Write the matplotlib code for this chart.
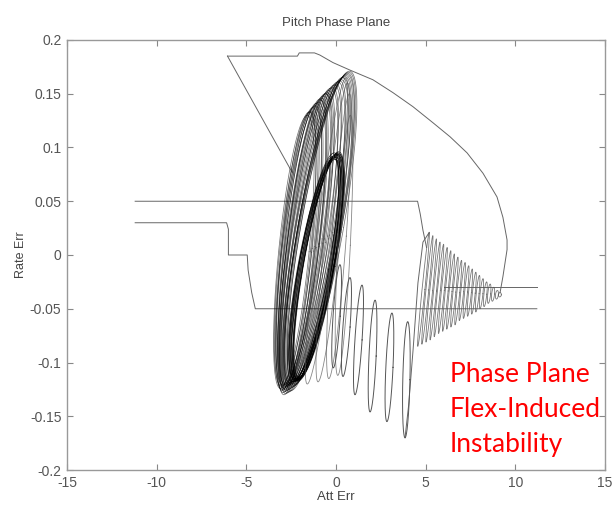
import numpy as np
import matplotlib
matplotlib.use("Agg")
import matplotlib.pyplot as plt

# ---- data ----
# step / guide lines
upper_step_x = [-11.2, 4.55, 4.7, 4.85, 5.05]
upper_step_y = [0.05, 0.05, 0.038, 0.023, 0.007]
lower_step_x = [-11.2, -6.1, -6.0, -6.0, -4.95, -4.9, -4.7, -4.5, 11.2]
lower_step_y = [0.03, 0.03, 0.024, 0.0, 0.0, -0.014, -0.035, -0.05, -0.05]
tail_x = [6.0, 11.2]
tail_y = [-0.03, -0.03]
diag_x = [-6.05, -2.45]
diag_y = [0.185, 0.077]
arc_x = [-6.05, -2.15, -2.05, -1.2, -0.9, -0.17, 0.78, 2.06, 3.18, 4.29, 5.41,
         6.36, 7.31, 8.2, 8.98, 9.31, 9.54, 9.54, 9.31, 9.15]
arc_y = [0.185, 0.185, 0.188, 0.188, 0.186, 0.179, 0.172, 0.163, 0.151, 0.138,
         0.123, 0.110, 0.095, 0.076, 0.054, 0.035, 0.014, 0.005, -0.02, -0.035]

# main cluster loops: top point, bottom point, half width
outer_top_x = [-1.6, -1.5, -1.4, -1.3, -1.2, -1.1, -1.0, -0.9, -0.8, -0.7, -0.6, -0.5, -0.4, -0.3,
               -0.2, -0.1, 0.0, 0.1, 0.2, 0.3, 0.35, 0.4, 0.5, 0.55, 0.6, 0.65, 0.7, 0.75,
               -1.45, -1.15, -0.85, -0.55]
outer_top_y = [0.130, 0.133, 0.134, 0.137, 0.138, 0.141, 0.142, 0.145, 0.146, 0.148, 0.150, 0.151,
               0.153, 0.155, 0.156, 0.158, 0.159, 0.161, 0.162, 0.163, 0.165, 0.165, 0.166, 0.167,
               0.168, 0.169, 0.170, 0.171, 0.133, 0.139, 0.144, 0.150]
outer_bot_x = [-3.1, -2.95, -3.05, -2.9, -3.0, -2.85, -2.95, -2.8, -2.9, -2.75, -2.85, -2.7, -2.8,
               -2.65, -2.75, -2.6, -2.7, -2.55, -2.65, -2.5, -2.6, -2.45, -2.55, -2.4, -2.5, -2.35,
               -2.45, -2.3, -3.0, -2.9, -2.85, -2.8]
outer_bot_y = [-0.124, -0.128, -0.122, -0.130, -0.125, -0.127, -0.121, -0.129, -0.124, -0.126,
               -0.120, -0.128, -0.123, -0.125, -0.121, -0.127, -0.122, -0.124, -0.120, -0.126,
               -0.121, -0.123, -0.119, -0.122, -0.120, -0.121, -0.118, -0.120, -0.126, -0.123,
               -0.125, -0.122]
outer_w = [0.85, 0.85, 0.9, 0.85, 0.95, 0.9, 1.0, 0.9, 0.95, 1.0, 0.95, 1.0, 0.95, 1.05,
           1.0, 1.05, 1.0, 1.1, 1.05, 1.1, 1.05, 1.15, 1.1, 1.15, 1.2, 1.15, 1.2, 1.2,
           0.8, 0.85, 0.9, 0.95]

# dark inner ellipse loops
inner_top_x = [-0.15, -0.05, 0.05, -0.1, 0.1, 0.0, 0.15, -0.15, 0.05, -0.05, 0.1, -0.1, 0.0, 0.15]
inner_top_y = [0.090, 0.092, 0.094, 0.091, 0.095, 0.093, 0.096, 0.092, 0.094, 0.089, 0.093,
               0.095, 0.091, 0.094]
inner_bot_x = [-2.3, -2.2, -2.15, -2.35, -2.1, -2.25, -2.05, -2.4, -2.15, -2.3, -2.1, -2.2,
               -2.25, -2.05]
inner_bot_y = [-0.116, -0.117, -0.115, -0.118, -0.116, -0.117, -0.114, -0.118, -0.116, -0.115,
               -0.117, -0.116, -0.118, -0.115]
inner_w = [0.9, 0.85, 0.95, 0.82, 0.9, 0.97, 0.86, 0.88, 0.8, 0.94, 0.87, 0.92, 0.84, 0.9]

# loops drifting right out of the cluster
trans_top_x = [0.55, 0.65, 0.75, 0.8]
trans_top_y = [0.165, 0.160, 0.150, 0.130]
trans_bot_x = [-1.6, -1.0, -0.4, 0.1]
trans_bot_y = [-0.120, -0.118, -0.115, -0.112]
trans_w = [0.5, 0.45, 0.4, 0.35]

drift_top_x = [0.22, 0.78, 1.45, 2.18, 3.12, 4.0]
drift_top_y = [-0.009, -0.021, -0.028, -0.042, -0.054, -0.062]
drift_bot_x = [-0.15, 0.39, 1.06, 1.9, 2.84, 3.85]
drift_bot_y = [-0.105, -0.113, -0.130, -0.146, -0.155, -0.170]
drift_w = [0.2, 0.2, 0.2, 0.2, 0.2, 0.2]

rise_x = [3.85, 4.05, 4.3, 4.57, 4.85, 5.2]
rise_y = [-0.170, -0.140, -0.088, -0.026, 0.012, 0.021]

# decaying flex oscillations
tri_top_x = [5.2, 5.4, 5.6, 5.8, 6.0, 6.2, 6.4, 6.6, 6.8, 7.0, 7.2,
             7.4, 7.6, 7.8, 8.0, 8.2, 8.4, 8.6, 8.8, 9.0, 9.15]
tri_top_y = [0.021, 0.018, 0.015, 0.012, 0.010, 0.007, 0.004, 0.001, -0.002, -0.005, -0.007,
             -0.010, -0.013, -0.016, -0.019, -0.022, -0.025, -0.027, -0.030, -0.033, -0.035]
tri_bot_x = [4.56, 4.79, 5.02, 5.25, 5.48, 5.72, 5.95, 6.18, 6.41, 6.64, 6.88,
             7.11, 7.34, 7.57, 7.80, 8.03, 8.26, 8.49, 8.72, 8.95, 9.13]
tri_bot_y = [-0.085, -0.083, -0.081, -0.079, -0.076, -0.073, -0.071, -0.069, -0.067, -0.065, -0.061,
             -0.059, -0.057, -0.055, -0.053, -0.050, -0.048, -0.045, -0.043, -0.041, -0.039]
tri_w = [0.08] * len(tri_top_x)

x_ticks = [-15, -10, -5, 0, 5, 10, 15]
y_ticks = [-0.2, -0.15, -0.1, -0.05, 0, 0.05, 0.1, 0.15, 0.2]
y_tick_labels = ["-0.2", "-0.15", "-0.1", "-0.05", "0", "0.05", "0.1", "0.15", "0.2"]


def loop(ax, tx, ty, bx, by, w, **kw):
    t = np.linspace(0, 2 * np.pi, 160)
    cx, cy = (tx + bx) / 2, (ty + by) / 2
    k, h = (tx - bx) / 2, (ty - by) / 2
    ax.plot(cx + w * np.cos(t) + k * np.sin(t), cy + h * np.sin(t), **kw)


plt.rcParams['font.family'] = ['Liberation Sans', 'DejaVu Sans']
plt.rcParams['axes.unicode_minus'] = False
fig = plt.figure(figsize=(6.12, 5.05), dpi=100)
ax = fig.add_axes([0.1095, 0.0693, 0.879, 0.8515])

thin = dict(color='#666666', lw=0.7)
for xs, ys in [(upper_step_x, upper_step_y), (lower_step_x, lower_step_y),
               (tail_x, tail_y), (diag_x, diag_y), (arc_x, arc_y), (rise_x, rise_y)]:
    ax.plot(xs, ys, **thin)

for i in range(len(outer_top_x)):
    loop(ax, outer_top_x[i], outer_top_y[i], outer_bot_x[i], outer_bot_y[i], outer_w[i],
         color='black', lw=0.55, alpha=0.55)
for i in range(len(inner_top_x)):
    loop(ax, inner_top_x[i], inner_top_y[i], inner_bot_x[i], inner_bot_y[i], inner_w[i],
         color='black', lw=0.6, alpha=0.75)
for i in range(len(trans_top_x)):
    loop(ax, trans_top_x[i], trans_top_y[i], trans_bot_x[i], trans_bot_y[i], trans_w[i],
         color='#555555', lw=0.6, alpha=0.7)
for i in range(len(drift_top_x)):
    loop(ax, drift_top_x[i], drift_top_y[i], drift_bot_x[i], drift_bot_y[i], drift_w[i],
         color='#555555', lw=0.7)
for i in range(len(tri_top_x)):
    loop(ax, tri_top_x[i], tri_top_y[i], tri_bot_x[i], tri_bot_y[i], tri_w[i],
         color='#555555', lw=0.6, alpha=0.8)

ax.set_xlim(-15, 15)
ax.set_ylim(-0.2, 0.2)
ax.set_xticks(x_ticks)
ax.set_yticks(y_ticks)
ax.set_yticklabels(y_tick_labels)
ax.tick_params(direction='in', top=True, right=True, length=4, width=0.8,
               colors='#888888', labelcolor='#555555', labelsize=10, pad=4)
for s in ax.spines.values():
    s.set_color('#999999')
    s.set_linewidth(1.0)

ax.set_title("Pitch Phase Plane", fontsize=9.5, color='#444444', pad=10)
ax.set_xlabel("Att Err", fontsize=9.5, color='#444444', labelpad=1)
ax.set_ylabel("Rate Err", fontsize=9, color='#444444', labelpad=2)

for txt, py in [("Phase Plane", 382), ("Flex-Induced", 417), ("Instability", 452)]:
    fig.text(450 / 612, 1 - py / 505, txt, color='#ff0000', fontsize=19,
             family='Lato', va='baseline', ha='left')

fig.savefig("out.png", dpi=100)
